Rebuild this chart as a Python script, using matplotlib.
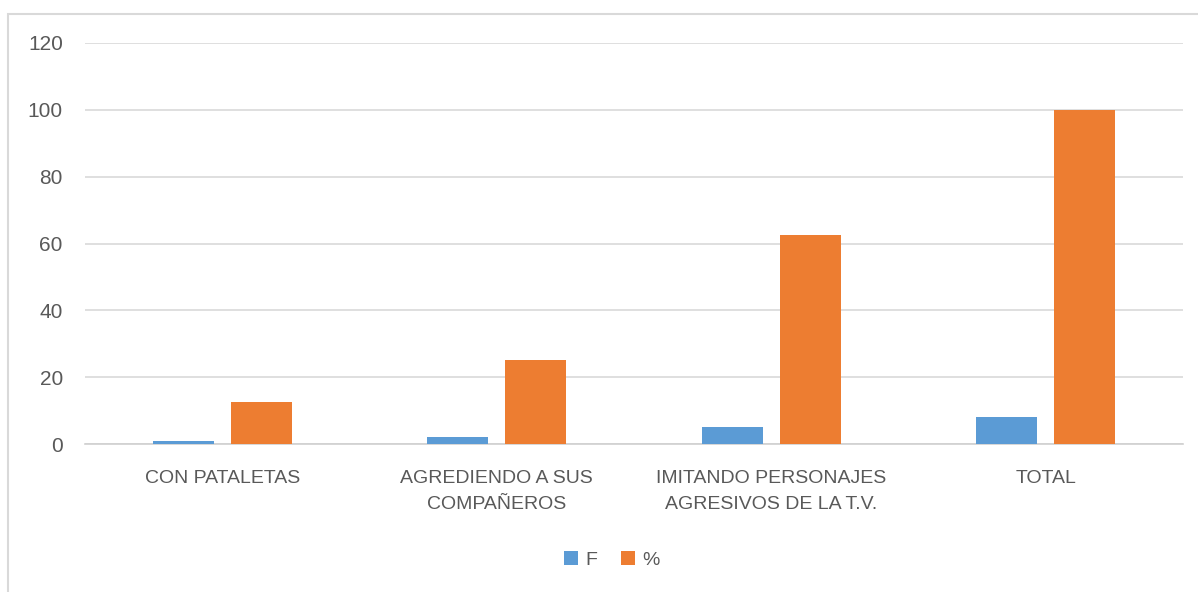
import numpy as np
from matplotlib import pyplot as plt
from matplotlib.patches import Rectangle

categories = ["CON PATALETAS", "AGREDIENDO A SUS\nCOMPAÑEROS",
              "IMITANDO PERSONAJES\nAGRESIVOS DE LA T.V.", "TOTAL"]
freq = [1, 2, 5, 8]
percent = [12.5, 25, 62.5, 100]
yticks = [0, 20, 40, 60, 80, 100, 120]


def main():
    plt.rcParams["font.family"] = ["Liberation Sans", "DejaVu Sans"]
    fig = plt.figure(figsize=(11.98, 5.92), dpi=100)
    ax = fig.add_axes([85 / 1198, 1 - 444 / 592, 1098 / 1198, 401 / 592])

    # outer chart border (cut off at right/bottom like the screenshot)
    fig.patches.append(Rectangle((8 / 1198, -0.1), 1.2, 1.1 - 14 / 592,
                                 transform=fig.transFigure, fill=False,
                                 edgecolor="#d9d9d9", linewidth=1.5))

    x = np.arange(len(categories))
    w = 0.222
    off = 0.142
    ax.bar(x - off, freq, w, color="#5B9BD5", label="F", zorder=3)
    ax.bar(x + off, percent, w, color="#ED7D31", label="%", zorder=3)

    ax.set_xlim(-0.5, len(categories) - 0.5)
    ax.set_ylim(0, 120)
    ax.set_yticks(yticks)
    ax.set_xticks(x)
    ax.set_xticklabels(categories, fontsize=14, color="#595959",
                       linespacing=1.7)
    ax.tick_params(axis="y", labelsize=15, colors="#595959", length=0, pad=16)
    ax.tick_params(axis="x", length=0, pad=19)
    ax.grid(axis="y", color="#d9d9d9", linewidth=1.2, zorder=0)
    for s in ["top", "right", "left"]:
        ax.spines[s].set_visible(False)
    ax.spines["bottom"].set_color("#d0d0d0")
    ax.spines["bottom"].set_linewidth(1.2)

    fig.legend(loc="center", bbox_to_anchor=(612 / 1198, 1 - 560 / 592),
               ncol=2, frameon=False, fontsize=14, handlelength=0.7,
               handleheight=0.7, handletextpad=0.4, columnspacing=1.2,
               labelcolor="#595959")

    plt.savefig("out.png", format="PNG")


if __name__ == "__main__":
    main()
